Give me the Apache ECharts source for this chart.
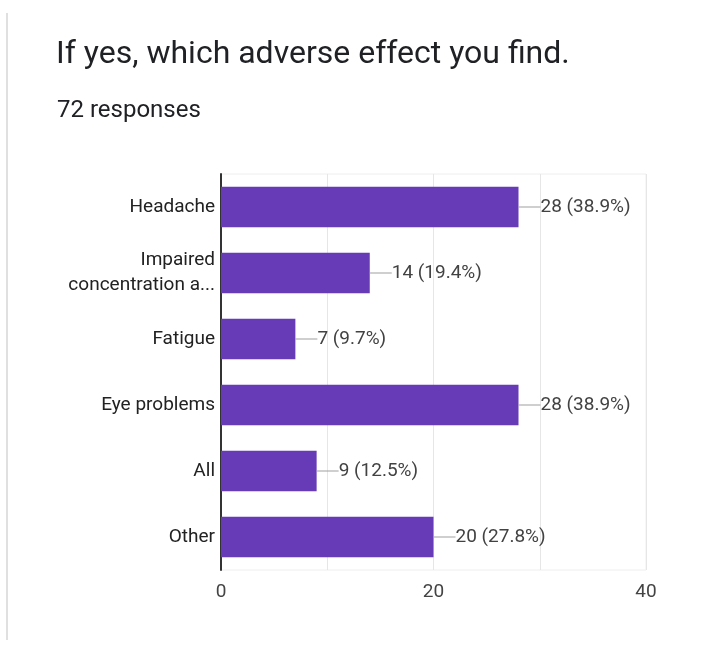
<!DOCTYPE html>
<html>
<head>
<meta charset="utf-8">
<script src="https://cdn.jsdelivr.net/npm/echarts@6/dist/echarts.min.js"></script>
<style>
    html, body { margin: 0; padding: 0; background: #fff; }
    #chart { width: 723px; height: 652px; }
</style>
</head>
<body>
<div id="chart"></div>
<script>
var categories = ['Headache', 'Impaired\nconcentration a...', 'Fatigue', 'Eye problems', 'All', 'Other'];
var counts = [28, 14, 7, 28, 9, 20];
var totalResponses = 72;
var tickLabels = ['0', '20', '40'];

var chart = echarts.init(document.getElementById('chart'));

var option = {
    animation: false,
    backgroundColor: '#fff',
    textStyle: { fontFamily: 'Roboto' },
    graphic: [
        {
            type: 'line',
            shape: { x1: 7, y1: 13, x2: 7, y2: 640 },
            style: { stroke: '#e0e0e0', lineWidth: 2 }
        },
        {
            type: 'text',
            x: 56,
            y: 55,
            style: {
                text: 'If yes, which adverse effect you find.',
                fontSize: 32,
                fill: '#202124',
                fontFamily: 'Roboto',
                verticalAlign: 'middle'
            }
        },
        {
            type: 'text',
            x: 57,
            y: 111,
            style: {
                text: totalResponses + ' responses',
                fontSize: 24,
                fill: '#202124',
                fontFamily: 'Roboto',
                verticalAlign: 'middle'
            }
        }
    ],
    grid: {
        left: 221,
        right: 77,
        top: 174,
        bottom: 82,
        show: true,
        borderColor: '#eeeeee',
        borderWidth: 1
    },
    xAxis: {
        type: 'value',
        min: 0,
        max: 40,
        interval: 10,
        axisLine: { show: false },
        axisTick: { show: false },
        splitLine: { lineStyle: { color: '#e6e6e6' } },
        axisLabel: {
            margin: 13,
            fontSize: 19,
            color: '#444',
            formatter: function (v) {
                var s = String(v);
                return tickLabels.indexOf(s) >= 0 ? s : '';
            }
        }
    },
    yAxis: {
        type: 'category',
        inverse: true,
        data: categories,
        axisLine: { show: true, lineStyle: { color: '#333', width: 2 } },
        axisTick: { show: false },
        splitLine: { show: false },
        axisLabel: {
            margin: 6,
            fontSize: 19,
            lineHeight: 25,
            color: '#222',
            align: 'right'
        }
    },
    series: [
        {
            type: 'bar',
            data: counts,
            barCategoryGap: '39%',
            itemStyle: { color: '#673ab7' },
            label: {
                show: true,
                position: 'right',
                distance: 0,
                formatter: function (p) {
                    var pct = (p.value / totalResponses * 100).toFixed(1);
                    return '{line|}{v|' + p.value + ' (' + pct + '%)}';
                },
                rich: {
                    line: { width: 22, height: 1, backgroundColor: '#9e9e9e' },
                    v: { fontSize: 19, color: '#424242', fontFamily: 'Roboto' }
                }
            }
        }
    ]
};

chart.setOption(option);
</script>
</body>
</html>
